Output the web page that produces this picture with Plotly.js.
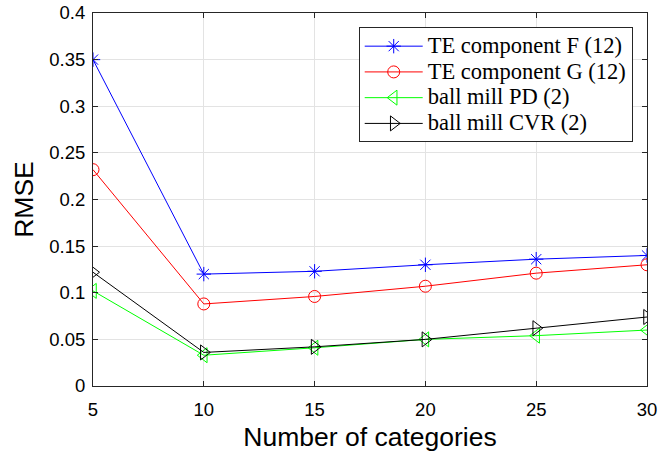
<!DOCTYPE html>
<html>
<head>
<meta charset="utf-8">
<script src="https://cdn.plot.ly/plotly-3.0.1.min.js"></script>
<style>html,body{margin:0;padding:0;background:#fff;}#chart{width:670px;height:452px;}</style>
</head>
<body>
<div id="chart"></div>
<script>
const categories = [5, 10, 15, 20, 25, 30];
const seriesNames = ["TE component F (12)", "TE component G (12)", "ball mill PD (2)", "ball mill CVR (2)"];
const teF = [0.350, 0.120, 0.123, 0.130, 0.136, 0.140];
const teG = [0.232, 0.088, 0.096, 0.107, 0.121, 0.130];
const millPD = [0.102, 0.033, 0.041, 0.050, 0.054, 0.060];
const millCVR = [0.122, 0.036, 0.042, 0.050, 0.062, 0.074];
const yTicks = [0, 0.05, 0.1, 0.15, 0.2, 0.25, 0.3, 0.35, 0.4];
const yTickText = ["0", "0.05", "0.1", "0.15", "0.2", "0.25", "0.3", "0.35", "0.4"];

const colors = ["#0000ff", "#ff0000", "#00ff00", "#000000"];
const symbols = ["asterisk-open", "circle-open", "triangle-left-open", "triangle-right-open"];
const sizes = [12, 12, 13, 13];
const values = [teF, teG, millPD, millCVR];

const traces = values.map((v, i) => ({
  x: categories, y: v,
  name: '<span style="font-size:22.5px">' + seriesNames[i] + '</span>',
  type: "scatter", mode: "lines+markers",
  line: {color: colors[i], width: 1},
  marker: {symbol: symbols[i], size: sizes[i], color: colors[i], line: {color: colors[i], width: 1}}
}));

const axisCommon = {
  showline: true, linecolor: "#262626", linewidth: 1, mirror: "ticks",
  ticks: "inside", ticklen: 5, tickcolor: "#262626", tickwidth: 1,
  showgrid: true, gridcolor: "#e3e3e3", gridwidth: 1, zeroline: false,
  tickfont: {family: "Liberation Sans, Arial, sans-serif", size: 18.5, color: "#000"}
};

const layout = {
  width: 670, height: 452,
  margin: {l: 93, r: 23, t: 13, b: 66},
  paper_bgcolor: "#fff", plot_bgcolor: "#fff",
  showlegend: true,
  legend: {
    x: 0.9742, y: 0.9617, xanchor: "right", yanchor: "top",
    bgcolor: "#fff", bordercolor: "#262626", borderwidth: 1,
    font: {family: "Liberation Serif, Times New Roman, serif", size: 17.5, color: "#000"},
    itemwidth: 58, tracegroupgap: 0
  },
  xaxis: Object.assign({}, axisCommon, {
    range: [5, 30], tickmode: "array", tickvals: categories, ticklabelstandoff: 7,
    title: {text: "Number of categories", font: {family: "Liberation Sans, Arial, sans-serif", size: 26.5, color: "#000"}, standoff: 8}
  }),
  yaxis: Object.assign({}, axisCommon, {
    range: [0, 0.4], tickmode: "array", tickvals: yTicks, ticktext: yTickText, ticklabelstandoff: 3,
    title: {text: "RMSE", font: {family: "Liberation Sans, Arial, sans-serif", size: 26.5, color: "#000"}, standoff: 8}
  })
};

Plotly.newPlot("chart", traces, layout, {staticPlot: true, displayModeBar: false});
</script>
</body>
</html>
